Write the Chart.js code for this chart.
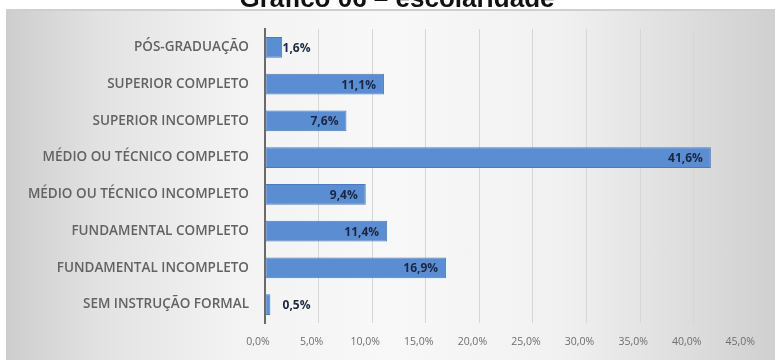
<!DOCTYPE html>
<html>
<head>
<meta charset="utf-8">
<script src="https://cdn.jsdelivr.net/npm/chart.js@4.4.1/dist/chart.umd.min.js"></script>
<style>
  html, body { margin: 0; padding: 0; width: 775px; height: 360px; overflow: hidden; background: #ffffff; }
  #bg { position: absolute; left: 6px; top: 9px; width: 769px; height: 351px;
        border-top: 2px solid #cfcfcf;
        background: linear-gradient(to right, #cdcdcd 0%, #e2e2e2 12%, #f3f3f3 30%, #f8f8f8 50%, #f1f1f1 72%, #dedede 88%, #d0d0d0 100%); }
  #wrap { position: absolute; left: 0; top: 0; width: 775px; height: 360px; }
</style>
</head>
<body>
<div id="bg"></div>
<div id="wrap"><canvas id="c" width="775" height="360"></canvas></div>
<script>
const chartTitle = 'Gráfico 06 – escolaridade';
const categories = ['PÓS-GRADUAÇÃO', 'SUPERIOR COMPLETO', 'SUPERIOR INCOMPLETO', 'MÉDIO OU TÉCNICO COMPLETO', 'MÉDIO OU TÉCNICO INCOMPLETO', 'FUNDAMENTAL COMPLETO', 'FUNDAMENTAL INCOMPLETO', 'SEM INSTRUÇÃO FORMAL'];
const values = [1.6, 11.1, 7.6, 41.6, 9.4, 11.4, 16.9, 0.5];
const axisMin = 0;
const axisMax = 45;
const axisStep = 5;

const fmt = v => Number(v).toFixed(1).replace('.', ',') + '%';

const titlePlugin = {
  id: 'cutTitle',
  afterDraw(chart) {
    const ctx = chart.ctx;
    ctx.save();
    ctx.font = 'bold 26px "Liberation Sans", Arial, sans-serif';
    ctx.fillStyle = '#111111';
    ctx.textAlign = 'center';
    ctx.textBaseline = 'alphabetic';
    ctx.fillText(chartTitle, 397, 7);
    ctx.restore();
  }
};

const labelPlugin = {
  id: 'barLabels',
  afterDatasetsDraw(chart) {
    const ctx = chart.ctx;
    const meta = chart.getDatasetMeta(0);
    ctx.save();
    ctx.font = 'bold 12px "Open Sans", sans-serif';
    ctx.fillStyle = '#1b2740';
    ctx.textAlign = 'right';
    ctx.textBaseline = 'middle';
    meta.data.forEach((el, i) => {
      const right = Math.max(el.x - 8, el.base + 45);
      ctx.fillText(fmt(values[i]), right, el.y + 1);
    });
    ctx.restore();
  }
};

new Chart(document.getElementById('c'), {
  type: 'bar',
  data: {
    labels: categories,
    datasets: [{
      data: values,
      backgroundColor: '#5b8dd3',
      borderColor: '#4c7bbd',
      borderWidth: 1,
      borderSkipped: false,
      barPercentage: 0.56,
      categoryPercentage: 1.0
    }]
  },
  options: {
    indexAxis: 'y',
    responsive: false,
    animation: false,
    layout: { padding: { left: 0, right: 27, top: 29, bottom: 0 } },
    plugins: { legend: { display: false }, tooltip: { enabled: false }, title: { display: false } },
    scales: {
      x: {
        min: axisMin, max: axisMax,
        afterFit(scale) { scale.height = 37; },
        ticks: {
          stepSize: axisStep,
          callback: v => fmt(v),
          color: '#6e6e6e',
          font: { family: '"Open Sans", sans-serif', size: 10.5 },
          padding: 13,
          labelOffset: -7,
          maxRotation: 0
        },
        grid: { color: '#d6d6d6', lineWidth: 1, drawTicks: false },
        border: { display: false }
      },
      y: {
        afterFit(scale) { scale.width = 265; },
        ticks: {
          color: '#626262',
          font: { family: '"Open Sans", sans-serif', size: 13.5, weight: '600' },
          padding: 16
        },
        grid: { display: false, drawTicks: false },
        border: { display: true, color: '#6a6a6a', width: 2 }
      }
    }
  },
  plugins: [titlePlugin, labelPlugin]
});
</script>
</body>
</html>
